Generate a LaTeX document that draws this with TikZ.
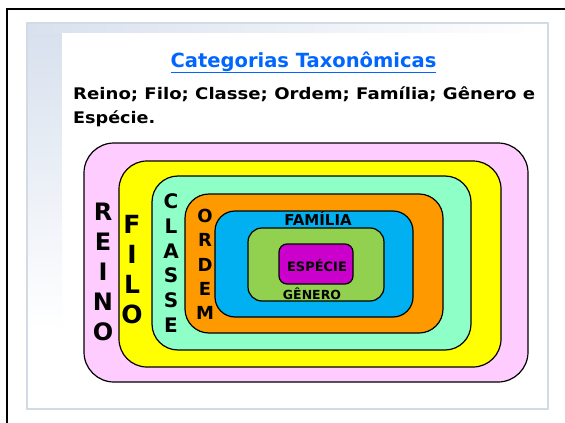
\documentclass[tikz,border=0pt]{standalone}
\usepackage{fontspec}
\setmainfont{DejaVu Sans}
\usepackage{graphicx}
\definecolor{reinoc}{HTML}{FFCCFF}
\definecolor{filoc}{HTML}{FFFF00}
\definecolor{classec}{HTML}{8FFFC8}
\definecolor{ordemc}{HTML}{FF9900}
\definecolor{familiac}{HTML}{00B0F0}
\definecolor{generoc}{HTML}{92D050}
\definecolor{especiec}{HTML}{CC00CC}
\definecolor{bandc}{HTML}{D8E1EE}
\definecolor{panelc}{HTML}{D3DAE3}
\definecolor{titlec}{HTML}{0066FF}
\begin{document}
\begin{tikzpicture}[x=1pt,y=-1pt,
  box/.style={draw=black, line width=1.2pt, rectangle, inner sep=0pt, outer sep=0pt},
  stack/.style={align=center, inner sep=0pt, font=\bfseries},
  lbl/.style={inner sep=0pt, font=\bfseries},
]
\useasboundingbox (0,0) rectangle (565,423);
% slide frame
\draw[line width=2pt] (7,430) |- (570,8.5);
% panel
\fill[white] (27,23) rectangle (548,409);
\shade[left color=bandc, right color=white] (27,23) rectangle (548,33);
\shade[top color=bandc, bottom color=white] (27,33) rectangle (62,330);
\fill[white] (62,33) rectangle (548,409);
\draw[panelc, line width=1.5pt] (27,23) rectangle (548,409);
% title and text
\node[lbl, anchor=base, text=titlec, font=\bfseries\fontsize{19.5}{23}\selectfont] (title) at (303.5,67) {\underline{Categorias Taxonômicas}};
\node[lbl, anchor=base west, font=\bfseries\fontsize{16}{20}\selectfont] (line1) at (73,99) {\resizebox{462pt}{\height}{Reino;\ Filo;\ Classe;\ Ordem;\ Família;\ Gênero\ e}};
\node[lbl, anchor=base west, font=\bfseries\fontsize{16}{20}\selectfont] (line2) at (73,123) {\resizebox{!}{\height}{\scalebox{1.1}[1]{Espécie.}}};
% nested boxes
\node[box, fill=reinoc, rounded corners=30pt, minimum width=444pt, minimum height=239pt] (reino) at (306,262.5) {};
\node[box, fill=filoc, rounded corners=28pt, minimum width=382pt, minimum height=206pt] (filo) at (310,264) {};
\node[box, fill=classec, rounded corners=26pt, minimum width=319pt, minimum height=174pt] (classe) at (311.5,263) {};
\node[box, fill=ordemc, rounded corners=24pt, minimum width=258pt, minimum height=139pt] (ordem) at (314,263.5) {};
\node[box, fill=familiac, rounded corners=20pt, minimum width=198pt, minimum height=106pt] (familia) at (314,264) {};
\node[box, fill=generoc, rounded corners=14pt, minimum width=136pt, minimum height=73pt] (genero) at (316,264.5) {};
\node[box, fill=especiec, rounded corners=8pt, minimum width=74pt, minimum height=40pt] (especie) at (316,264) {};
% vertical labels
\node[stack, font=\bfseries\fontsize{24}{30}\selectfont] (reinot) at (103,272) {R\\E\\I\\N\\O};
\node[stack, font=\bfseries\fontsize{25}{30}\selectfont] (filot) at (132,270) {F\\I\\L\\O};
\node[stack, font=\bfseries\fontsize{20}{24.8}\selectfont] (classet) at (171,263) {C\\L\\A\\S\\S\\E};
\node[stack, font=\bfseries\fontsize{18}{24.25}\selectfont] (ordemt) at (205,264.5) {O\\R\\D\\E\\M};
% inner labels
\node[lbl, anchor=base, font=\bfseries\fontsize{15}{18}\selectfont] (familiat) at (318,225) {FAMÍLIA};
\node[lbl, anchor=base, font=\bfseries\fontsize{13}{16}\selectfont] (especiet) at (317,271) {ESPÉCIE};
\node[lbl, anchor=base, font=\bfseries\fontsize{12.5}{15}\selectfont] (generot) at (312,299) {GÊNERO};
\end{tikzpicture}
\end{document}
